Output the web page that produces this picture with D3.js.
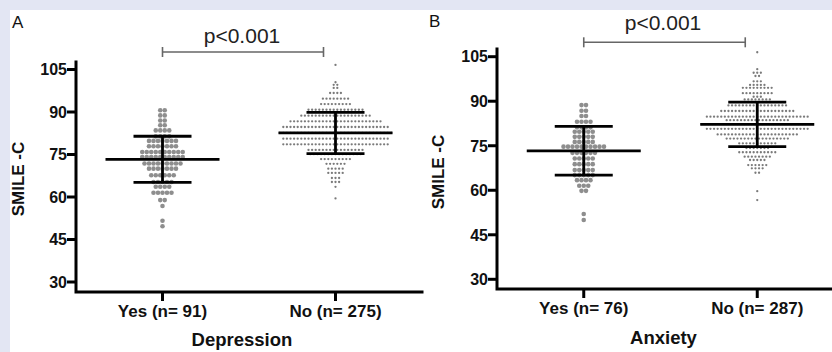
<!DOCTYPE html>
<html><head><meta charset="utf-8">
<script src="https://cdn.jsdelivr.net/npm/d3@7"></script>
<style>body{margin:0;background:#fff}svg{display:block}text{font-family:"Liberation Sans",Arial,sans-serif}</style>
</head><body><svg id="c" width="832" height="352"></svg>
<script>
// ---------- data ----------
const categories = ["Yes", "No"];
const depLabels = ["Yes (n= 91)", "No (n= 275)"];
const anxLabels = ["Yes (n= 76)", "No (n= 287)"];
const yTicks = [30, 45, 60, 75, 90, 105];
const pText = "p<0.001";

// Depression - Yes (n=91): score rows and counts
const depYesValues = [90.6, 88.8, 87.0, 85.3, 83.5, 81.4, 79.8, 77.9, 75.9, 74.1, 71.8, 70.0, 67.7, 65.3, 63.6, 61.5, 58.9, 56.8, 51.6, 49.7];
const depYesCounts = [2, 2, 2, 2, 4, 4, 7, 7, 10, 10, 9, 7, 6, 5, 4, 5, 2, 1, 1, 1];
// Depression - No (n=275)
const depNoValues = [106.6, 100.5, 99.6, 98.5, 96.7, 94.7, 92.8, 90.8, 88.7, 86.7, 84.7, 82.6, 80.6, 78.6, 76.6, 75.1, 73.4, 71.7, 70.0, 68.5, 66.7, 65.3, 63.6, 59.5];
const depNoCounts = [1, 1, 2, 2, 4, 8, 9, 16, 20, 26, 30, 32, 30, 30, 16, 15, 9, 6, 5, 5, 3, 3, 1, 1];
// Anxiety - Yes (n=76)
const anxYesValues = [88.7, 86.8, 85.0, 83.1, 81.2, 79.7, 78.0, 76.3, 74.7, 72.6, 70.7, 68.8, 66.8, 65.1, 63.4, 61.5, 59.8, 52.0, 50.0];
const anxYesCounts = [2, 2, 2, 4, 4, 5, 5, 5, 10, 6, 5, 5, 5, 5, 4, 3, 2, 1, 1];
// Anxiety - No (n=287)
const anxNoValues = [106.5, 100.8, 99.6, 98.5, 96.7, 95.5, 94.5, 92.7, 91.5, 90.6, 88.6, 86.7, 84.8, 83.6, 82.3, 80.7, 78.8, 77.4, 75.8, 74.2, 72.8, 71.3, 70.2, 68.5, 67.4, 65.9, 59.7, 56.7];
const anxNoCounts = [1, 1, 3, 2, 3, 5, 9, 9, 3, 8, 17, 21, 29, 18, 32, 29, 23, 18, 11, 7, 11, 8, 5, 6, 4, 2, 1, 1];

// mean and SD per group
const depMeans = [73.3, 82.6];
const depSDs = [8.15, 7.3];
const anxMeans = [73.3, 82.2];
const anxSDs = [8.2, 7.5];

// ---------- drawing ----------
const svg = d3.select("#c");
svg.append("rect").attr("width", 832).attr("height", 352).attr("fill", "#fff");
svg.append("rect").attr("x", 0).attr("y", 0).attr("width", 832).attr("height", 10).attr("fill", "#e3e6f3");
svg.append("rect").attr("x", 0).attr("y", 0).attr("width", 10).attr("height", 352).attr("fill", "#e3e6f3");

function panel(cfg) {
  const g = svg.append("g");
  const x = d3.scalePoint().domain(categories).range([cfg.x0, cfg.x1]).padding(0.5);
  const y = d3.scaleLinear().domain([30, 105]).range([cfg.yBot, cfg.yTop]);

  // dots
  const groups = [
    {cat: "Yes", vals: cfg.yesV, cnts: cfg.yesC, r: 2.3, sp: 4.5, fill: "#8e8e8e"},
    {cat: "No", vals: cfg.noV, cnts: cfg.noC, r: 1.15, sp: 3.6, fill: "#7a7a7a"}
  ];
  groups.forEach(gr => {
    const pts = [];
    gr.vals.forEach((v, k) => {
      const n = gr.cnts[k];
      for (let i = 0; i < n; i++) pts.push({v, off: (i - (n - 1) / 2) * gr.sp});
    });
    g.append("g").selectAll("circle").data(pts).join("circle")
      .attr("cx", d => x(gr.cat) + d.off)
      .attr("cy", d => y(d.v))
      .attr("r", gr.r)
      .attr("fill", gr.fill);
  });

  // mean & SD
  categories.forEach((c, i) => {
    const cx = x(c), m = cfg.means[i], s = cfg.sds[i];
    const lg = g.append("g").attr("stroke", "#000").attr("stroke-width", 2.8);
    lg.append("line").attr("x1", cx - 57).attr("x2", cx + 57).attr("y1", y(m)).attr("y2", y(m));
    lg.append("line").attr("x1", cx - 29).attr("x2", cx + 29).attr("y1", y(m + s)).attr("y2", y(m + s));
    lg.append("line").attr("x1", cx - 29).attr("x2", cx + 29).attr("y1", y(m - s)).attr("y2", y(m - s));
    lg.append("line").attr("x1", cx).attr("x2", cx).attr("y1", y(m + s)).attr("y2", y(m - s));
  });

  // axes
  const ax = g.append("g").attr("stroke", "#000").attr("stroke-width", 3).attr("fill", "none");
  ax.append("path").attr("d", `M${cfg.x0},${cfg.axTop}V${cfg.axBot}H${cfg.axEnd}`).attr("stroke-linecap", "square");
  yTicks.forEach(t => {
    ax.append("line").attr("x1", cfg.x0 - 9).attr("x2", cfg.x0).attr("y1", y(t)).attr("y2", y(t));
  });
  categories.forEach(c => {
    ax.append("line").attr("x1", x(c)).attr("x2", x(c)).attr("y1", cfg.axBot).attr("y2", cfg.axBot + 9);
  });
  g.append("g").selectAll("text").data(yTicks).join("text")
    .attr("x", cfg.x0 - 9).attr("y", d => y(d)).attr("dy", "0.36em")
    .attr("text-anchor", "end").attr("font-weight", "bold").attr("font-size", 16).attr("fill", "#111")
    .text(d => d);
  g.append("g").selectAll("text").data(categories).join("text")
    .attr("x", d => x(d)).attr("y", cfg.catY)
    .attr("text-anchor", "middle").attr("font-weight", "bold").attr("font-size", 17).attr("fill", "#111")
    .text((d, i) => cfg.labels[i]);
  g.append("text").attr("x", (x("Yes") + x("No")) / 2 - 7).attr("y", cfg.titleY)
    .attr("text-anchor", "middle").attr("font-weight", "bold").attr("font-size", 18.5).attr("fill", "#111")
    .text(cfg.xTitle);
  g.append("text").attr("transform", `translate(${cfg.yLabX},${cfg.yLabY}) rotate(-90)`)
    .attr("text-anchor", "middle").attr("font-weight", "bold").attr("font-size", 17).attr("fill", "#111")
    .text("SMILE -C");
  // panel letter
  g.append("text").attr("x", cfg.letterX).attr("y", cfg.letterY).attr("font-size", 17).attr("fill", "#111").text(cfg.letter);
  // significance bracket
  const bx1 = x("Yes"), bx2 = x("No") - 12;
  const br = g.append("g").attr("stroke", "#666").attr("stroke-width", 1.6);
  br.append("line").attr("x1", bx1).attr("x2", bx2).attr("y1", cfg.brY).attr("y2", cfg.brY);
  br.append("line").attr("x1", bx1).attr("x2", bx1).attr("y1", cfg.brY - 5).attr("y2", cfg.brY + 5);
  br.append("line").attr("x1", bx2).attr("x2", bx2).attr("y1", cfg.brY - 5).attr("y2", cfg.brY + 5);
  g.append("text").attr("x", cfg.pX).attr("y", cfg.pY).attr("text-anchor", "middle")
    .attr("font-size", 21).attr("fill", "#222").text(pText);
}

panel({x0: 76, x1: 422, axEnd: 422, yTop: 69.5, yBot: 282, axTop: 62, axBot: 292,
  yesV: depYesValues, yesC: depYesCounts, noV: depNoValues, noC: depNoCounts,
  means: depMeans, sds: depSDs, labels: depLabels, xTitle: "Depression",
  catY: 317, titleY: 346, yLabX: 24, yLabY: 179, letter: "A", letterX: 12, letterY: 28,
  brY: 52, pX: 242, pY: 43});
panel({x0: 497, x1: 844, axEnd: 832, yTop: 56.7, yBot: 279.3, axTop: 49, axBot: 289,
  yesV: anxYesValues, yesC: anxYesCounts, noV: anxNoValues, noC: anxNoCounts,
  means: anxMeans, sds: anxSDs, labels: anxLabels, xTitle: "Anxiety",
  catY: 314, titleY: 344, yLabX: 444, yLabY: 172, letter: "B", letterX: 429, letterY: 27,
  brY: 42.3, pX: 663, pY: 30});
</script></body></html>
